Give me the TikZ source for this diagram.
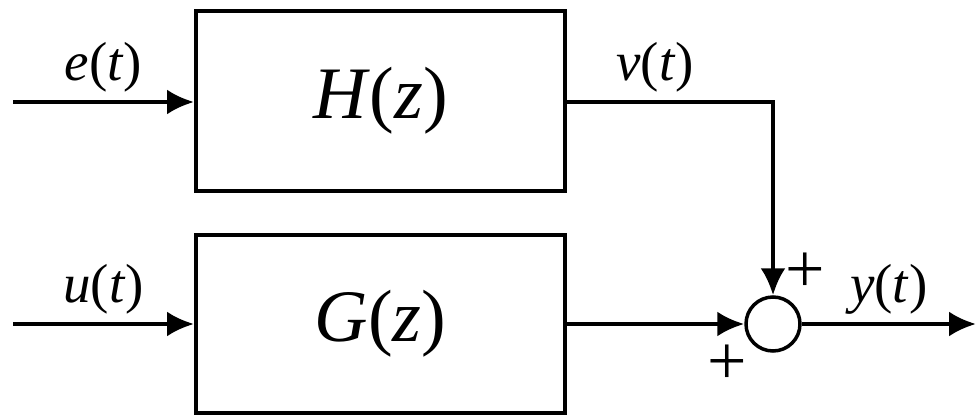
\documentclass[tikz,border=0pt]{standalone}
\usepackage{fontspec}
\setmainfont{Liberation Serif}
\usetikzlibrary{arrows.meta}
\usetikzlibrary{positioning}

\tikzset{
  blk/.style={draw,line width=4pt,minimum width=369pt,minimum height=180pt,
    font=\fontsize{74}{80}\selectfont},
  sumpt/.style={draw,circle,line width=3.5pt,minimum size=54pt,inner sep=0pt},
  sig/.style={line width=4pt,-{Latex[length=27pt,width=25pt]}},
  lbl/.style={font=\fontsize{55}{60}\selectfont},
  sgn/.style={font=\fontsize{70}{74}\selectfont,inner sep=0pt},
}

\begin{document}
\begin{tikzpicture}[x=1pt,y=-1pt]
  \useasboundingbox (0,0) rectangle (976,415);
  \node[blk] (H) at (380.5,101) {\textit{H}(\textit{z})};
  \node[blk,minimum height=178pt] (G) at (380.5,324) {\textit{G}(\textit{z})};
  \node[sumpt] (sum) at (773,324) {};
  \coordinate (ein) at (13,102);
  \coordinate (uin) at (13,324);
  \coordinate (yout) at (976,324);
  \draw[sig] (ein) -- node[lbl,above=4pt] {\textit{e}(\textit{t})} (ein -| H.west);
  \draw[sig] (uin) -- node[lbl,above=4pt] {\textit{u}(\textit{t})} (G.west);
  \draw[sig] (H.east |- ein) -| node[lbl,above=4pt,pos=0.214] {\textit{v}(\textit{t})} (sum.north);
  \draw[sig] (G.east) -- (sum.west);
  \draw[sig] (sum.east) -- node[lbl,above=4pt] {\textit{y}(\textit{t})} (yout);
  % signs at the summing point
  \node[sgn] (ptop) at (805,273) {+};
  \node[sgn] (pbot) at (727,365) {+};
\end{tikzpicture}
\end{document}
